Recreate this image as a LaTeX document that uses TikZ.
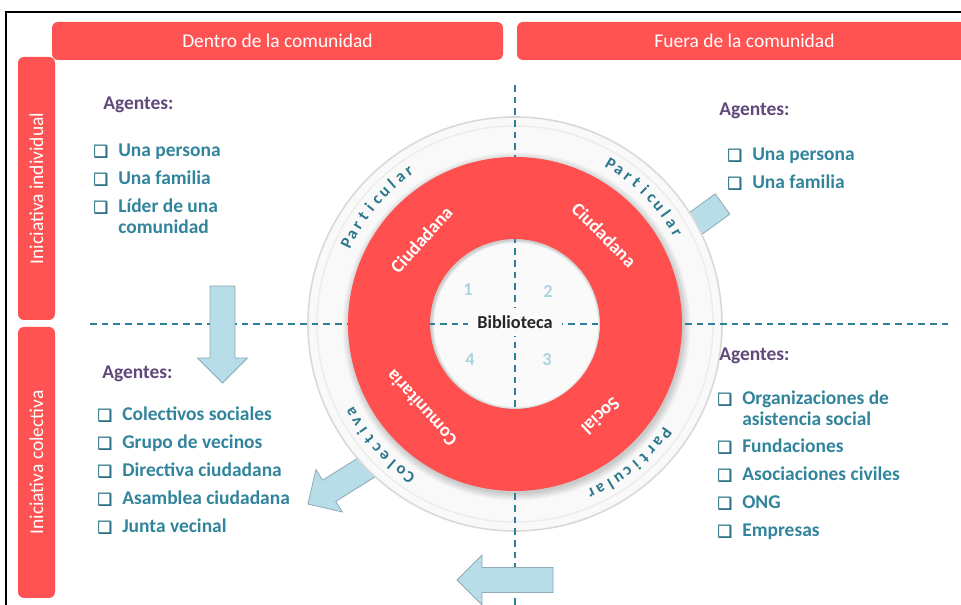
\documentclass[tikz,border=0pt]{standalone}
\usepackage{fontspec}
\setmainfont{Carlito}
\newfontfamily\dejavu[FakeBold=1.6]{DejaVu Sans}
\usetikzlibrary{calc}
\usepackage{xcolor}
\definecolor{rojo}{HTML}{FF5353}
\definecolor{anillo}{HTML}{FF4F4F}
\definecolor{azulverde}{HTML}{31849B}
\definecolor{casillaazul}{HTML}{2A6F84}
\definecolor{morado}{HTML}{5F497A}
\definecolor{celeste}{HTML}{B7DDE8}
\definecolor{bordeceleste}{HTML}{8EAAB4}
\definecolor{numero}{HTML}{AAD3DF}
\definecolor{linea}{HTML}{2F7F98}
\newcommand\casilla{\makebox[18.75pt][l]{\color{casillaazul}\dejavu\fontsize{12.5}{12.5}\selectfont ❑}}
% flecha de bloque: cola, angulo, largo del cuerpo
\newcommand\flecha[3]{%
	\filldraw[flechabloque, shift={(#1)}, rotate=#2]
	(0,-12.5) -- (#3,-12.5) -- (#3,-25) -- (#3+25,0) -- (#3,25) -- (#3,12.5) -- (0,12.5) -- cycle;}
\tikzset{%
	barra/.style={
		fill=rojo,
		rounded corners=4.5pt,
		text=white,
		inner sep=0pt,
		minimum height=38*0.75pt,
		font=\fontsize{14.6}{16}\selectfont
	},
	flechabloque/.style={
		fill=celeste,
		draw=bordeceleste,
		line width=0.6pt
	},
	guion/.style={
		draw=linea,
		line width=1pt,
		dash pattern=on 5pt off 3.75pt
	},
	agentes/.style={
		anchor=base west,
		inner sep=0pt,
		text=morado,
		font=\bfseries\fontsize{14.6}{15.75}\selectfont
	},
	item/.style={
		anchor=base west,
		inner sep=0pt,
		text=azulverde,
		font=\bfseries\fontsize{14.6}{15.75}\selectfont
	},
	letra/.style={
		anchor=base,
		inner sep=0pt,
		text=azulverde!90!black,
		font=\bfseries\fontsize{12.5}{12.5}\selectfont
	},
	etiqueta/.style={
		text=white,
		inner sep=0pt,
		font=\bfseries\fontsize{14}{14}\selectfont
	},
	numero/.style={
		text=numero,
		inner sep=0pt,
		font=\bfseries\fontsize{13.7}{14}\selectfont
	},
}
\begin{document}
\begin{tikzpicture}[x=0.75pt, y=0.75pt]
	\useasboundingbox (0,0) rectangle (961,605);
	% Marco
	\draw[line width=1.5pt] (6,-5) -- (6,593) -- (975,593);
	% Encabezados
	\node[barra, minimum width=451*0.75pt] (dentro) at (277.5,564) {Dentro de la comunidad};
	\node[barra, minimum width=455*0.75pt] (fuera) at (744.5,564) {Fuera de la comunidad};
	\node[barra, rotate=90, minimum width=263*0.75pt, minimum height=37*0.75pt] (individual) at (36.5,416.5) {Iniciativa individual};
	\node[barra, rotate=90, minimum width=271*0.75pt, minimum height=37*0.75pt] (colectiva) at (36.5,142.5) {Iniciativa colectiva};
	% Flechas bajo el disco
	\flecha{397,156.6}{212}{80}
	\flecha{722.5,401}{216}{60}
	% Disco
	\coordinate (centro) at (515,281);
	\begin{scope}[shift={(centro)}]
		\fill[gray!5] (0,0) circle[radius=207];
		\draw[gray!30, line width=1.2pt] (0,0) circle[radius=207];
		\draw[gray!15, line width=1pt] (0,0) circle[radius=198];
		\foreach \k in {1,...,8}
		{
			\fill[black, opacity=0.025] (1.5,-2.5) circle[radius=166+\k];
		}
		\fill[gray!4] (0,0) circle[radius=85];
		\foreach \k in {1,...,6}
		{
			\draw[black, opacity=0.03, line width=\k*0.8pt] (1,-1) circle[radius=85];
		}
	\end{scope}
	% Lineas punteadas
	\draw[guion] (90,281) -- (948,281);
	\draw[guion] (515,520) -- (515,-5);
	% Anillo
	\fill[anillo, even odd rule] (centro) circle[radius=167] (centro) circle[radius=85];
	\node[etiqueta, rotate=48] (ciud-1) at ($(centro)+(138:126)$) {Ciudadana};
	\node[etiqueta, rotate=-45] (ciud-2) at ($(centro)+(45:126)$) {Ciudadana};
	\node[etiqueta, rotate=132] (comunitaria) at ($(centro)+(222:126)$) {Comunitaria};
	\node[etiqueta, rotate=-137] (social) at ($(centro)+(-47:126)$) {Social};
	% Centro
	\node[fill=gray!4, text=black!85, inner xsep=7pt, inner ysep=6pt, font=\bfseries\fontsize{13.7}{14}\selectfont] (biblioteca) at (515,283) {Biblioteca};
	\node[numero] (num-1) at (468,315) {1};
	\node[numero] (num-2) at (548,313) {2};
	\node[numero] (num-3) at (547,245) {3};
	\node[numero] (num-4) at (470,245) {4};
	% Letras sobre el borde
	\foreach \c [count=\i] in {P,a,r,t,i,c,u,l,a,r}
	{
		\pgfmathsetmacro\ang{154.45-3.3*(\i-1)}
		\pgfmathsetmacro\rot{\ang-90}
		\node[letra, rotate=\rot] (pi-\i) at ($(centro)+(\ang:181)$) {\c};
	}
	\foreach \c [count=\i] in {P,a,r,t,i,c,u,l,a,r}
	{
		\pgfmathsetmacro\ang{59.15-3.3*(\i-1)}
		\pgfmathsetmacro\rot{\ang-90}
		\node[letra, rotate=\rot] (pd-\i) at ($(centro)+(\ang:181)$) {\c};
	}
	\foreach \c [count=\i] in {C,o,l,e,c,t,i,v,a}
	{
		\pgfmathsetmacro\ang{235.4-3.4*(\i-1)}
		\pgfmathsetmacro\rot{\ang-90}
		\node[letra, rotate=\rot] (co-\i) at ($(centro)+(\ang:181)$) {\c};
	}
	\foreach \c [count=\i] in {P,a,r,t,i,c,u,l,a,r}
	{
		\pgfmathsetmacro\ang{-36.05-3.3*(\i-1)}
		\pgfmathsetmacro\rot{\ang-90}
		\node[letra, rotate=\rot] (pb-\i) at ($(centro)+(\ang:181)$) {\c};
	}
	% Flechas sobre las lineas
	\flecha{222.5,319}{-90}{72}
	\flecha{553,25}{180}{71}
	% Agentes: individual, dentro
	\node[agentes] (ag-1) at (103,495) {Agentes:};
	\foreach \t [count=\i] in {Una persona, Una familia}
	{
		\node[item] (ind-\i) at (93,476-28*\i) {\casilla\t};
	}
	\node[item] (ind-3) at (93,392) {\casilla\begin{tabular}[t]{@{}l@{}}Líder de una\\comunidad\end{tabular}};
	% Agentes: individual, fuera
	\node[agentes] (ag-2) at (719,489) {Agentes:};
	\foreach \t [count=\i] in {Una persona, Una familia}
	{
		\node[item] (fue-\i) at (727,472-28*\i) {\casilla\t};
	}
	% Agentes: colectiva, dentro
	\node[agentes] (ag-3) at (102,226) {Agentes:};
	\foreach \t [count=\i] in {Colectivos sociales, Grupo de vecinos, Directiva ciudadana, Asamblea ciudadana, Junta vecinal}
	{
		\node[item] (col-\i) at (97,212-28*\i) {\casilla\t};
	}
	% Agentes: colectiva, fuera
	\node[agentes] (ag-4) at (719,244) {Agentes:};
	\node[item] (soc-0) at (717,200) {\casilla\begin{tabular}[t]{@{}l@{}}Organizaciones de\\asistencia social\end{tabular}};
	\foreach \t [count=\i] in {Fundaciones, Asociaciones civiles, ONG, Empresas}
	{
		\node[item] (soc-\i) at (717,180-28*\i) {\casilla\t};
	}
\end{tikzpicture}
\end{document}
